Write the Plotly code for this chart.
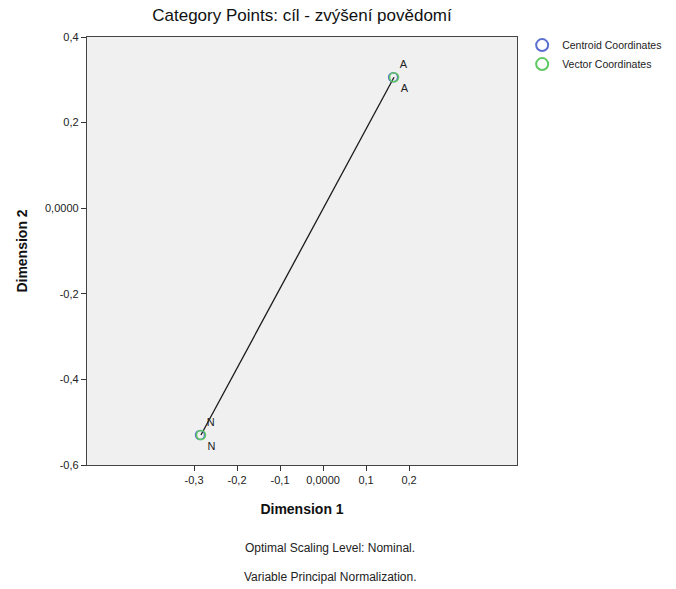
import plotly.graph_objects as go

categories = ["A", "N"]
centroid_x = [0.163, -0.286]
centroid_y = [0.306, -0.530]
vector_x = [0.165, -0.284]
vector_y = [0.306, -0.530]

x_tickvals = [-0.3, -0.2, -0.1, 0.0, 0.1, 0.2]
x_ticktext = ["-0,3", "-0,2", "-0,1", "0,0000", "0,1", "0,2"]
y_tickvals = [0.4, 0.2, 0.0, -0.2, -0.4, -0.6]
y_ticktext = ["0,4", "0,2", "0,0000", "-0,2", "-0,4", "-0,6"]

title_text = "Category Points: cíl - zvýšení povědomí"
footnotes = ["Optimal Scaling Level: Nominal.", "Variable Principal Normalization."]

FONT = "Liberation Sans, Arial, sans-serif"

fig = go.Figure()

# vector line
fig.add_trace(go.Scatter(
    x=vector_x[::-1], y=vector_y[::-1], mode="lines",
    line=dict(color="#1a1a1a", width=1.3), showlegend=False, hoverinfo="skip"))

fig.add_trace(go.Scatter(
    x=centroid_x, y=centroid_y, mode="markers+text", name="Centroid Coordinates",
    text=categories, textposition="top right",
    textfont=dict(family=FONT, size=11, color="#222"),
    marker=dict(symbol="circle-open", size=9, color="#5b6fcf", line=dict(width=1.6))))

fig.add_trace(go.Scatter(
    x=vector_x, y=vector_y, mode="markers+text", name="Vector Coordinates",
    text=categories, textposition="bottom right",
    textfont=dict(family=FONT, size=11, color="#222"),
    marker=dict(symbol="circle-open", size=9, color="#5fc861", line=dict(width=1.6))))

fig.update_layout(
    width=676, height=589,
    margin=dict(l=87, r=159, t=37, b=124, autoexpand=False),
    paper_bgcolor="white", plot_bgcolor="#f0f0f0",
    font=dict(family=FONT, size=11, color="#222"),
    title=dict(text=title_text, x=0.5, xref="paper", xanchor="center",
               y=1 - 15 / 589, yref="container", yanchor="middle",
               font=dict(family=FONT, size=17, color="#111")),
    legend=dict(x=1.012, y=1.015, xanchor="left", yanchor="top",
                font=dict(family=FONT, size=10.5, color="#222"),
                bgcolor="rgba(0,0,0,0)", itemsizing="constant",
                tracegroupgap=0, itemwidth=30),
    showlegend=True,
)

fig.update_xaxes(
    range=[-0.549, 0.451], tickvals=x_tickvals, ticktext=x_ticktext,
    ticks="outside", ticklen=5, tickcolor="#333", tickwidth=1,
    showgrid=False, zeroline=False, showline=True, mirror=True,
    linecolor="#444", linewidth=1.3,
    tickfont=dict(family=FONT, size=11, color="#222"),
    title=dict(text="<b>Dimension 1</b>", font=dict(family=FONT, size=14, color="#111"), standoff=18))

fig.update_yaxes(
    range=[-0.6, 0.4], tickvals=y_tickvals, ticktext=y_ticktext,
    ticks="outside", ticklen=5, tickcolor="#333", tickwidth=1,
    showgrid=False, zeroline=False, showline=True, mirror=True,
    linecolor="#444", linewidth=1.3,
    tickfont=dict(family=FONT, size=11, color="#222"),
    title=dict(text="<b>Dimension 2</b>", font=dict(family=FONT, size=14, color="#111"), standoff=14))

for i, t in enumerate(footnotes):
    fig.add_annotation(text=t, xref="paper", yref="paper",
                       x=(330 - 87) / 430, y=(465 - (548 + 29 * i)) / 428,
                       xanchor="center", yanchor="middle", showarrow=False,
                       font=dict(family=FONT, size=12, color="#222"))

fig.write_html("out.html")
